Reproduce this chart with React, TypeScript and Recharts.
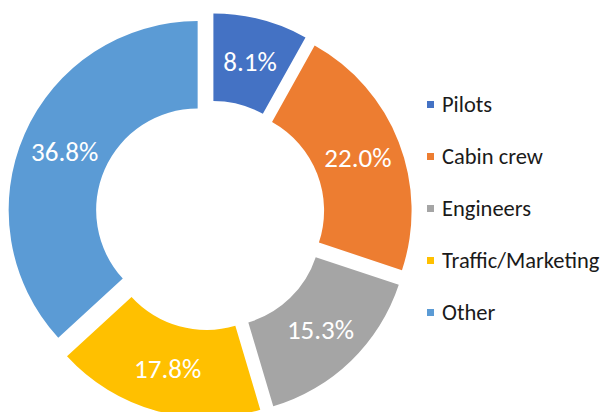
import React from "react";
import { PieChart, Pie, Cell, Sector, Legend } from "recharts";

const categories = ["Pilots", "Cabin crew", "Engineers", "Traffic/Marketing", "Other"];
const shares = [8.1, 22.0, 15.3, 17.8, 36.8];
const colors = ["#4472C4", "#ED7D31", "#A5A5A5", "#FFC000", "#5B9BD5"];

const data = categories.map((name, i) => ({ name, value: shares[i] }));

const EXPLODE = 13.5;
const RAD = Math.PI / 180;
const FONT = "Carlito, Calibri, Lato, sans-serif";

const renderSlice = (props: any) => {
  const { cx, cy, midAngle, innerRadius, outerRadius, startAngle, endAngle, fill } = props;
  const dx = EXPLODE * Math.cos(-midAngle * RAD);
  const dy = EXPLODE * Math.sin(-midAngle * RAD);
  return (
    <Sector
      cx={cx + dx}
      cy={cy + dy}
      innerRadius={innerRadius}
      outerRadius={outerRadius}
      startAngle={startAngle}
      endAngle={endAngle}
      fill={fill}
      stroke="none"
    />
  );
};

const renderLabel = (props: any) => {
  const { cx, cy, midAngle, innerRadius, outerRadius, value } = props;
  const r = (innerRadius + outerRadius) / 2 + EXPLODE;
  const x = cx + r * Math.cos(-midAngle * RAD);
  const y = cy + r * Math.sin(-midAngle * RAD);
  return (
    <text
      x={x}
      y={y}
      fill="#ffffff"
      textAnchor="middle"
      dominantBaseline="central"
      fontFamily={FONT}
      fontSize={27}
    >
      {value.toFixed(1)}%
    </text>
  );
};

const renderLegend = (props: any) => {
  const payload = [...(props.payload || [])].sort(
    (a: any, b: any) => categories.indexOf(a.value) - categories.indexOf(b.value)
  );
  return (
    <div style={{ fontFamily: FONT, fontSize: 22.5, color: "#1a1a1a" }}>
      {payload.map((entry: any, i: number) => (
        <div key={i} style={{ display: "flex", alignItems: "center", height: 52, whiteSpace: "nowrap" }}>
          <span
            style={{
              display: "inline-block",
              width: 7,
              height: 7,
              background: entry.color,
              marginRight: 8,
            }}
          />
          <span>{entry.value}</span>
        </div>
      ))}
    </div>
  );
};

export default function App() {
  return (
    <div style={{ position: "absolute", left: 0, top: 0, width: 608, height: 412, background: "#fff" }}>
      <PieChart width={608} height={412} margin={{ top: 0, right: 0, bottom: 0, left: 0 }}>
        <Pie
          data={data}
          dataKey="value"
          nameKey="name"
          cx={210}
          cy={215.5}
          innerRadius={101.5}
          outerRadius={189}
          startAngle={90}
          endAngle={-270}
          stroke="none"
          isAnimationActive={false}
          shape={renderSlice}
          activeShape={renderSlice}
          inactiveShape={renderSlice}
          label={renderLabel}
          labelLine={false}
        >
          {data.map((d, i) => (
            <Cell key={d.name} fill={colors[i]} />
          ))}
        </Pie>
        <Legend
          layout="vertical"
          align="right"
          verticalAlign="top"
          content={renderLegend}
          wrapperStyle={{ position: "absolute", left: 427, top: 78, width: 181 }}
        />
      </PieChart>
    </div>
  );
}
